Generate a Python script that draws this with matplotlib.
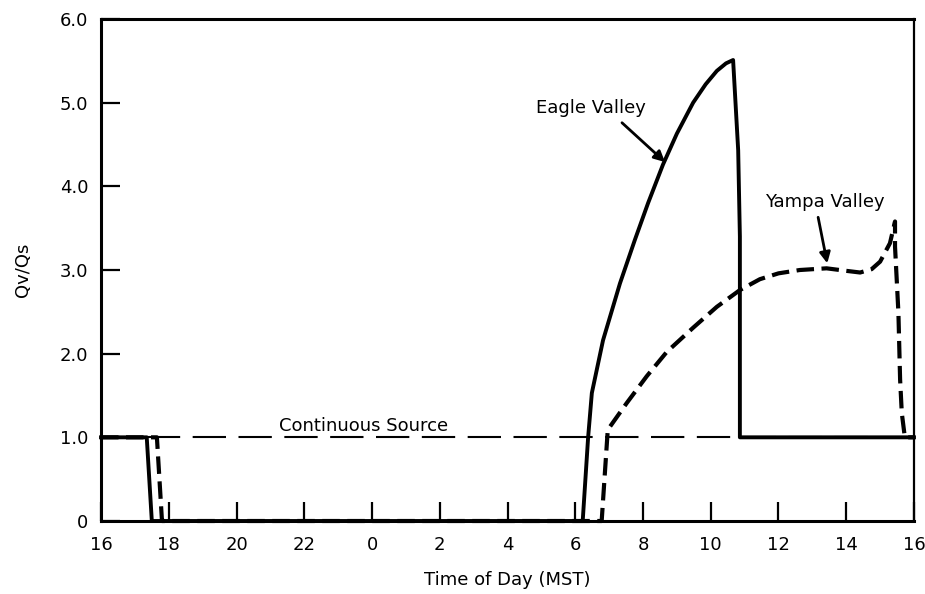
import matplotlib
matplotlib.use("Agg")
import matplotlib.pyplot as plt

# ---- data (hours measured continuously from 16:00 of day 1; 40 = 16:00 next day)
eagle_t = [16.0, 17.35, 17.50, 30.22, 30.38, 30.49, 30.82, 31.32, 31.76, 32.15,
           32.59, 33.00, 33.48, 33.85, 34.18, 34.45, 34.66, 34.81, 34.86, 34.86, 40.0]
eagle_v = [1.0, 1.0, 0.0, 0.0, 1.00, 1.53, 2.16, 2.84, 3.36, 3.80,
           4.26, 4.63, 5.00, 5.22, 5.38, 5.47, 5.51, 4.43, 3.40, 1.0, 1.0]

yampa_t = [16.0, 17.65, 17.80, 30.78, 30.96, 31.52, 32.11, 32.70, 33.48, 34.18,
           34.86, 35.45, 36.00, 36.63, 37.42, 38.00, 38.41, 38.75, 39.00, 39.29,
           39.44, 39.44, 39.54, 39.59, 39.64, 39.73, 40.0]
yampa_v = [1.0, 1.0, 0.0, 0.0, 1.09, 1.41, 1.73, 2.02, 2.31, 2.56,
           2.76, 2.89, 2.96, 3.00, 3.02, 2.99, 2.97, 3.01, 3.10, 3.32,
           3.58, 3.28, 2.49, 1.69, 1.29, 1.0, 1.0]

cont_t = [16.0, 40.0]
cont_v = [1.0, 1.0]

xticks = [16, 18, 20, 22, 24, 26, 28, 30, 32, 34, 36, 38, 40]
xlabels = ["16", "18", "20", "22", "0", "2", "4", "6", "8", "10", "12", "14", "16"]
yticks = [0, 1, 2, 3, 4, 5, 6]
ylabels = ["0", "1.0", "2.0", "3.0", "4.0", "5.0", "6.0"]

plt.rcParams['font.family'] = ['DejaVu Sans']
fig = plt.figure(figsize=(9.25, 5.94), dpi=100)
ax = fig.add_axes([0.1092, 0.1229, 0.8789, 0.8451])

ax.plot(cont_t, cont_v, color='black', lw=1.5, dashes=(16, 6), zorder=2)
ax.plot(yampa_t, yampa_v, color='black', lw=3.0, dashes=(4.2, 1.8),
        zorder=3, clip_on=False)
ax.plot(eagle_t, eagle_v, color='black', lw=2.8, zorder=4, clip_on=False,
        solid_joinstyle='round')

ax.set_xlim(16, 40)
ax.set_ylim(0, 6)
ax.set_xticks(xticks)
ax.set_xticklabels(xlabels)
ax.set_yticks(yticks)
ax.set_yticklabels(ylabels)
ax.tick_params(axis='both', direction='in', length=14, width=1.6,
               labelsize=13, colors='black')
ax.tick_params(axis='x', pad=11)
ax.tick_params(axis='y', pad=9)
for s in ax.spines.values():
    s.set_linewidth(2.2)
ax.spines['right'].set_linewidth(1.6)

ax.set_xlabel("Time of Day (MST)", fontsize=13, labelpad=12)
ax.set_ylabel("Qv/Qs", fontsize=13, labelpad=20)

ax.text(23.76, 1.03, "Continuous Source", fontsize=13, ha='center', va='bottom')
ax.text(30.45, 4.94, "Eagle Valley", fontsize=13, ha='center', va='center')
ax.annotate('', xy=(32.65, 4.29), xytext=(31.38, 4.76),
            arrowprops=dict(arrowstyle='-|>', lw=2.0, color='black',
                            mutation_scale=16, shrinkA=0, shrinkB=0))
ax.text(37.37, 3.81, "Yampa Valley", fontsize=13, ha='center', va='center')
ax.annotate('', xy=(37.44, 3.08), xytext=(37.17, 3.63),
            arrowprops=dict(arrowstyle='-|>', lw=2.0, color='black',
                            mutation_scale=16, shrinkA=0, shrinkB=0))

fig.savefig("out.png", dpi=100)
